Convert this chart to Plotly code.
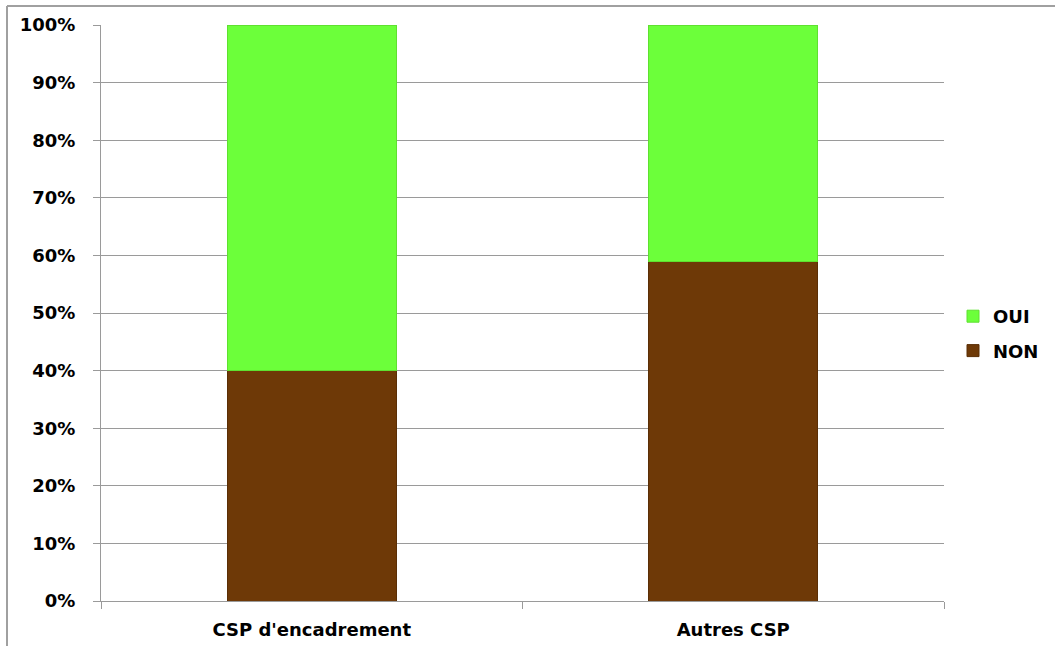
import plotly.graph_objects as go

# Répartition des réponses par catégorie socio-professionnelle (en %)
categories = ["CSP d'encadrement", "Autres CSP"]
non_values = [40, 59]
oui_values = [60, 41]
y_ticks = [0, 10, 20, 30, 40, 50, 60, 70, 80, 90, 100]
y_tick_labels = [f"{v}%" for v in y_ticks]

GREEN = "#6CFF3A"
BROWN = "#6E3907"
GRID = "#9a9a9a"
FONT = "DejaVu Sans, Arial, sans-serif"

fig = go.Figure()
fig.add_trace(go.Bar(
    name="NON", x=categories, y=non_values, width=0.4,
    legendgroup="non", legendrank=2,
    marker=dict(color=BROWN, line=dict(color="#5a2e05", width=1)),
))
fig.add_trace(go.Bar(
    name="OUI", x=categories, y=oui_values, width=0.4,
    legendgroup="oui", legendrank=1,
    marker=dict(color=GREEN, line=dict(color="#5fe030", width=1)),
))

# panel frame (left and top edges)
L, R, T, B = 101, 944, 25, 601
def px_x(p):
    return (p - L) / (R - L)
def px_y(p):
    return (B - p) / (B - T)

fig.add_shape(type="line", xref="paper", yref="paper",
              x0=px_x(7), x1=px_x(1060), y0=px_y(6), y1=px_y(6),
              line=dict(color="#a0a0a0", width=2))
fig.add_shape(type="line", xref="paper", yref="paper",
              x0=px_x(7), x1=px_x(7), y0=px_y(6), y1=px_y(660),
              line=dict(color="#a0a0a0", width=2))

fig.update_layout(
    barmode="stack",
    width=1055, height=646,
    margin=dict(l=L, r=1055 - R, t=T, b=646 - B, autoexpand=False),
    paper_bgcolor="white", plot_bgcolor="white",
    font=dict(family=FONT, size=18, color="black"),
    showlegend=True,
    legend=dict(
        x=px_x(953), y=px_y(298), xanchor="left", yanchor="top",
        font=dict(family=FONT, size=18, color="black", weight="bold"),
        traceorder="grouped", itemwidth=30, tracegroupgap=8,
        bgcolor="rgba(0,0,0,0)",
    ),
    xaxis=dict(
        type="category", tickson="boundaries",
        showline=True, linecolor=GRID, linewidth=1,
        ticks="outside", ticklen=7, tickcolor=GRID,
        showgrid=False,
        tickfont=dict(family=FONT, size=18, weight="bold"),
        ticklabelstandoff=12,
        range=[-0.5, 1.5],
    ),
    yaxis=dict(
        range=[0, 100], tickvals=y_ticks, ticktext=y_tick_labels,
        showline=True, linecolor=GRID, linewidth=1,
        ticks="outside", ticklen=7, tickcolor=GRID,
        showgrid=True, gridcolor=GRID, gridwidth=1,
        zeroline=False,
        tickfont=dict(family=FONT, size=18, weight="bold"),
        ticklabelstandoff=14,
    ),
)

fig.write_html("out.html")
